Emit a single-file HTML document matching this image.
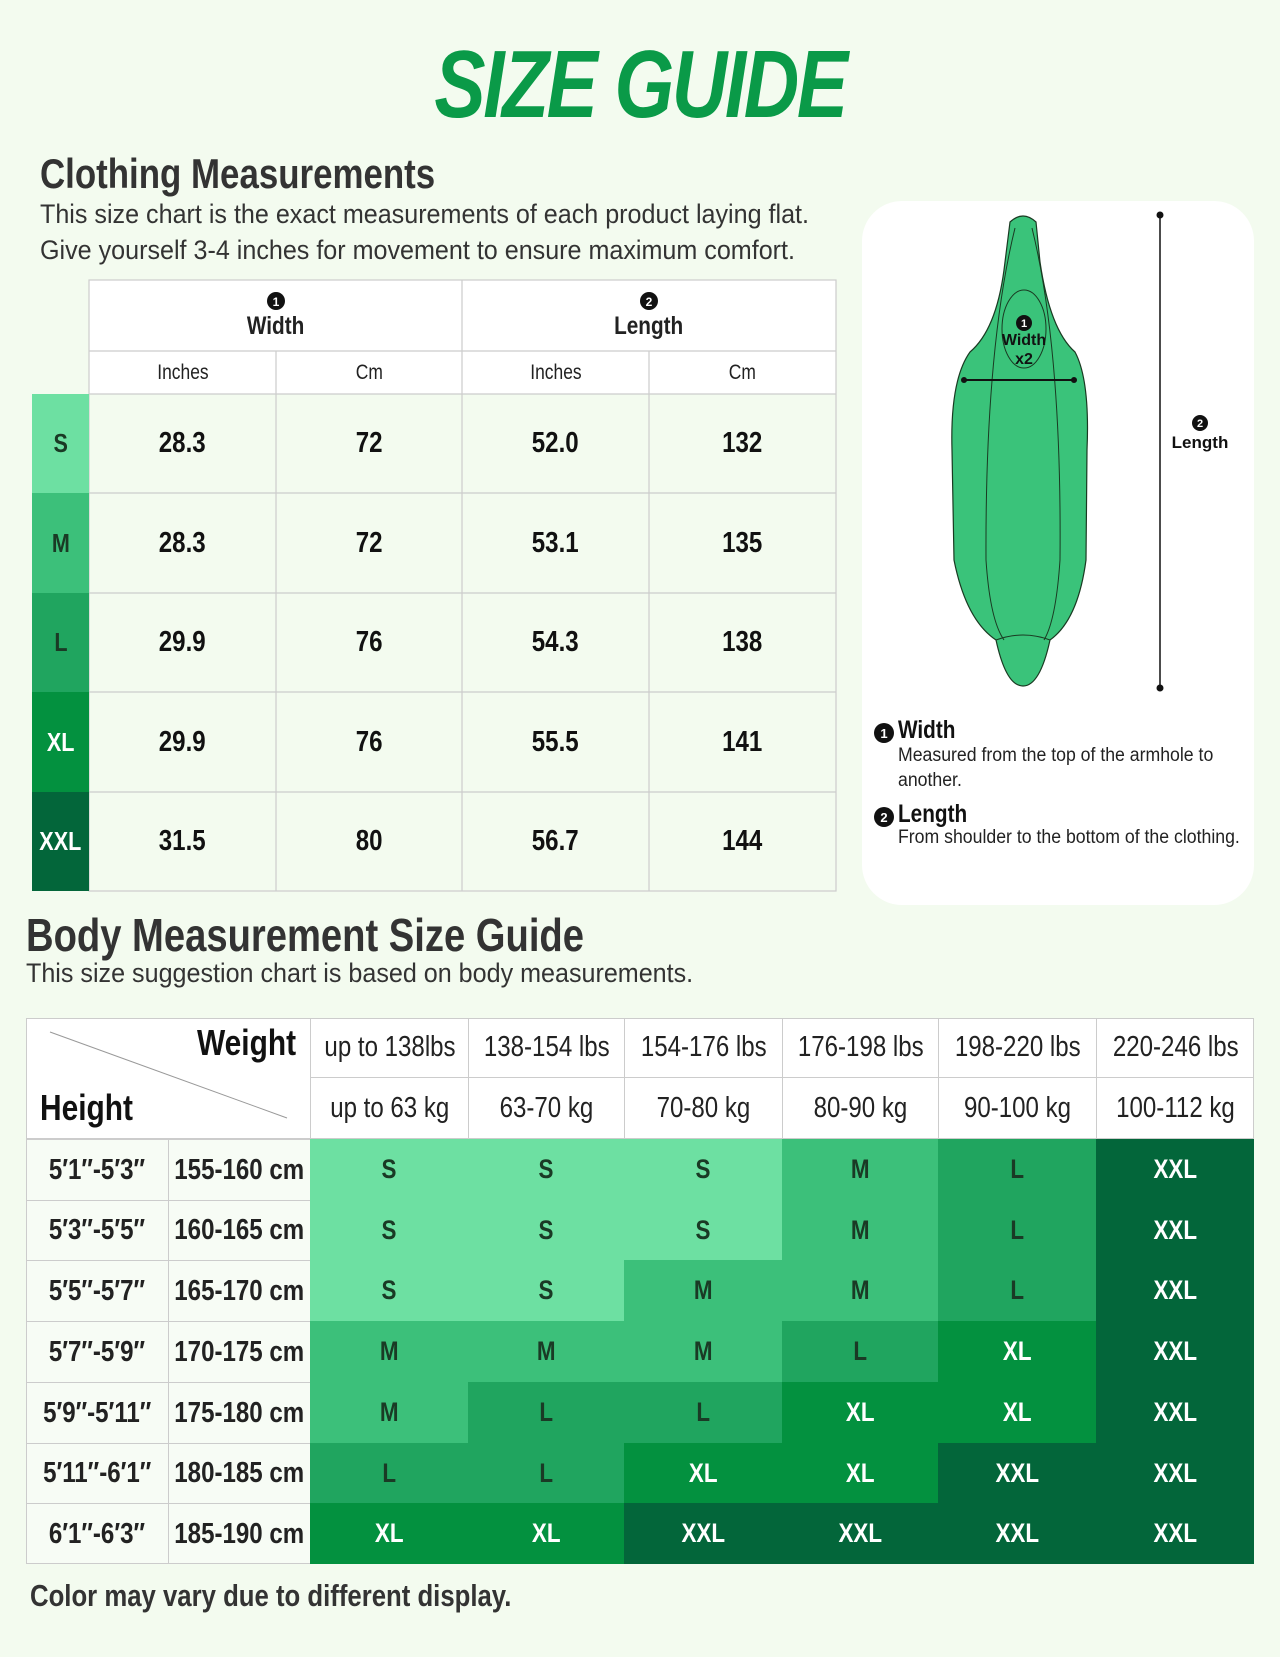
<!DOCTYPE html>
<html><head><meta charset="utf-8"><style>
*{margin:0;padding:0;box-sizing:border-box}
body{width:1280px;height:1657px;background:#f3fbef;position:relative;overflow:hidden;font-family:"Liberation Sans",sans-serif;color:#222}
.a{position:absolute;white-space:nowrap;transform-origin:0 0}
.l{transform:scaleX(.83)}
.m{transform:scaleX(.93)}
.c{position:absolute;display:flex;align-items:center;justify-content:center;text-align:center;white-space:nowrap}
.c span{display:inline-block;transform:scaleX(.83)}
.h{font-weight:bold;color:#333}
</style></head><body>
<div class="a" style="left:0;width:1280px;top:30px;text-align:center;font:italic bold 96px 'Liberation Sans',sans-serif;color:#0a9a48;letter-spacing:-3px"><span style="display:inline-block;transform:scaleX(.8)">SIZE GUIDE</span></div>
<div class="a h l" style="left:40px;top:150px;font-size:42px">Clothing Measurements</div>
<div class="a m" style="left:40px;top:196px;font-size:27px;color:#333;line-height:36px">This size chart is the exact measurements of each product laying flat.<br>Give yourself 3-4 inches for movement to ensure maximum comfort.</div>

<div class="a" style="left:89px;top:280px;width:747px;height:114px;background:#fff"></div>
<svg class="a" style="left:0;top:0" width="1280" height="1657">
<g stroke="#ccc" stroke-width="1.2" fill="none">
<rect x="89" y="280" width="747" height="611"/>
<line x1="89" y1="351" x2="836" y2="351"/>
<line x1="89" y1="394" x2="836" y2="394"/>
<line x1="89" y1="493" x2="836" y2="493"/><line x1="89" y1="593" x2="836" y2="593"/><line x1="89" y1="692" x2="836" y2="692"/><line x1="89" y1="792" x2="836" y2="792"/>
<line x1="462" y1="280" x2="462" y2="891"/>
<line x1="276" y1="351" x2="276" y2="891"/><line x1="649" y1="351" x2="649" y2="891"/>
</g>
<rect x="32" y="394" width="57" height="99" fill="#6de0a2"/>
<rect x="32" y="493" width="57" height="100" fill="#3cc07a"/>
<rect x="32" y="593" width="57" height="99" fill="#20a55f"/>
<rect x="32" y="692" width="57" height="100" fill="#03913f"/>
<rect x="32" y="792" width="57" height="99" fill="#03663a"/>
<rect x="862" y="201" width="392" height="704" rx="40" fill="#fff"/>
<path d="M1010,222 Q1023,210 1036,222 L1040,262 Q1050,330 1075,352 Q1090,380 1087,450 L1086,560 Q1078,620 1050,640 Q1040,686 1023,686 Q1006,686 996,640 Q966,620 954,560 L952,450 Q950,380 970,352 Q996,330 1004,270 Z" fill="#3ac37a" stroke="#1a3a22" stroke-width="1.2"/>
<g stroke="#1a3a22" fill="none" stroke-width="1">
<path d="M1015,228 Q985,350 986,560 Q990,620 1004,640"/><path d="M1032,228 Q1062,350 1060,560 Q1056,620 1044,640"/>
<path d="M996,640 Q1023,630 1050,640"/>
<ellipse cx="1024" cy="329" rx="22" ry="39"/>
</g>
<line x1="964" y1="380" x2="1074" y2="380" stroke="#111" stroke-width="2"/>
<circle cx="964" cy="380" r="3" fill="#111"/><circle cx="1074" cy="380" r="3" fill="#111"/>
<line x1="1160" y1="215" x2="1160" y2="688" stroke="#111" stroke-width="1.5"/>
<circle cx="1160" cy="215" r="3.5" fill="#111"/><circle cx="1160" cy="688" r="3.5" fill="#111"/>
<circle cx="1024" cy="323" r="8" fill="#111"/><text x="1024" y="327" font-size="11" fill="#fff" text-anchor="middle" font-weight="bold" font-family="Liberation Sans">1</text>
<text x="1024" y="345" font-size="16" text-anchor="middle" font-weight="bold" font-family="Liberation Sans" fill="#111">Width</text>
<text x="1024" y="364" font-size="16" text-anchor="middle" font-weight="bold" font-family="Liberation Sans" fill="#111">x2</text>
<circle cx="1200" cy="423" r="8" fill="#111"/><text x="1200" y="427" font-size="11" fill="#fff" text-anchor="middle" font-weight="bold" font-family="Liberation Sans">2</text>
<text x="1200" y="448" font-size="17" text-anchor="middle" font-weight="bold" font-family="Liberation Sans" fill="#111">Length</text>
<circle cx="276" cy="301" r="9" fill="#111"/><text x="276" y="306" font-size="12" fill="#fff" text-anchor="middle" font-weight="bold">1</text>
<circle cx="649" cy="301" r="9" fill="#111"/><text x="649" y="306" font-size="12" fill="#fff" text-anchor="middle" font-weight="bold">2</text>
<circle cx="884" cy="733" r="10" fill="#111"/><text x="884" y="738" font-size="13" fill="#fff" text-anchor="middle" font-weight="bold">1</text>
<circle cx="884" cy="817" r="10" fill="#111"/><text x="884" y="822" font-size="13" fill="#fff" text-anchor="middle" font-weight="bold">2</text>
</svg>
<div class="c" style="left:89px;top:312px;width:373px;font-size:25px;font-weight:bold"><span>Width</span></div>
<div class="c" style="left:462px;top:312px;width:374px;font-size:25px;font-weight:bold"><span>Length</span></div>
<div class="c" style="left:89px;top:351px;width:187px;height:43px;font-size:21px"><span>Inches</span></div>
<div class="c" style="left:276px;top:351px;width:186px;height:43px;font-size:21px"><span>Cm</span></div>
<div class="c" style="left:462px;top:351px;width:187px;height:43px;font-size:21px"><span>Inches</span></div>
<div class="c" style="left:649px;top:351px;width:187px;height:43px;font-size:21px"><span>Cm</span></div>
<div id="t1"></div>
<div class="a l" style="left:898px;top:716px;font-size:25px;font-weight:bold;color:#111">Width</div>
<div class="a m" style="left:898px;top:743px;font-size:19px;line-height:25px;color:#222">Measured from the top of the armhole to<br>another.</div>
<div class="a l" style="left:898px;top:800px;font-size:25px;font-weight:bold;color:#111">Length</div>
<div class="a m" style="left:898px;top:827px;font-size:19px;color:#222">From shoulder to the bottom of the clothing.</div>

<div class="a h l" style="left:26px;top:908px;font-size:46px">Body Measurement Size Guide</div>
<div class="a m" style="left:26px;top:958px;font-size:27px;color:#333">This size suggestion chart is based on body measurements.</div>
<div id="t2"></div>
<div class="a l" style="left:30px;top:1578px;font-size:31px;color:#333;font-weight:bold">Color may vary due to different display.</div>
<script>
var cols=[89,276,462,649,836],rows=[394,493,593,692,792,891];
var sz=["S","M","L","XL","XXL"],szc=["#1a3a25","#1a3a25","#1a3a25","#fff","#fff"];
var d=[["28.3","72","52.0","132"],["28.3","72","53.1","135"],["29.9","76","54.3","138"],["29.9","76","55.5","141"],["31.5","80","56.7","144"]];
var h="";
for(var r=0;r<5;r++){var y=rows[r],hh=rows[r+1]-y;
h+='<div class="c" style="left:32px;top:'+y+'px;width:57px;height:'+hh+'px;font-size:26px;font-weight:bold;color:'+szc[r]+'"><span>'+sz[r]+'</span></div>';
for(var c=0;c<4;c++)h+='<div class="c" style="left:'+cols[c]+'px;top:'+y+'px;width:'+(cols[c+1]-cols[c])+'px;height:'+hh+'px;font-size:29px;font-weight:bold;color:#111"><span>'+d[r][c]+'</span></div>';}
document.getElementById("t1").innerHTML=h;
var X=[26,169,310,468,624,782,938,1096,1254],Y=[1018,1078,1139,1200,1260,1321,1382,1443,1503,1564];
var col={S:"#6de0a2",M:"#3cc07a",L:"#20a55f",XL:"#03913f",XXL:"#03663a"};
var g=[["S","S","S","M","L","XXL"],["S","S","S","M","L","XXL"],["S","S","M","M","L","XXL"],["M","M","M","L","XL","XXL"],["M","L","L","XL","XL","XXL"],["L","L","XL","XL","XXL","XXL"],["XL","XL","XXL","XXL","XXL","XXL"]];
var hf=["5′1″-5′3″","5′3″-5′5″","5′5″-5′7″","5′7″-5′9″","5′9″-5′11″","5′11″-6′1″","6′1″-6′3″"];
var hc=["155-160 cm","160-165 cm","165-170 cm","170-175 cm","175-180 cm","180-185 cm","185-190 cm"];
var lb=["up to 138lbs","138-154 lbs","154-176 lbs","176-198 lbs","198-220 lbs","220-246 lbs"],kg=["up to 63 kg","63-70 kg","70-80 kg","80-90 kg","90-100 kg","100-112 kg"];
h='<div class="a" style="left:26px;top:1018px;width:1228px;height:546px;background:#f7fcf5;border:1.5px solid #ccc"></div>';
h+='<div class="a" style="left:26px;top:1018px;width:1228px;height:121px;background:#fff;border:1.5px solid #ccc"></div>';
for(var c=0;c<6;c++){var x=X[c+2],w=X[c+3]-x;
h+='<div class="c" style="left:'+x+'px;top:1018px;width:'+w+'px;height:60px;font-size:29px;border-left:1px solid #ccc;border-bottom:1px solid #ccc"><span>'+lb[c]+'</span></div>';
h+='<div class="c" style="left:'+x+'px;top:1078px;width:'+w+'px;height:61px;font-size:29px;border-left:1px solid #ccc"><span>'+kg[c]+'</span></div>';}
h+='<div class="a l" style="left:197px;top:1022px;font-size:36px;font-weight:bold;color:#111">Weight</div>';
h+='<div class="a l" style="left:40px;top:1087px;font-size:36px;font-weight:bold;color:#111">Height</div>';
h+='<svg class="a" style="left:0;top:0" width="1280" height="1657"><line x1="50" y1="1032" x2="287" y2="1118" stroke="#999" stroke-width="1"/></svg>';
for(var r=0;r<7;r++){var y=Y[r+2],hh=Y[r+3]-y;
h+='<div class="c" style="left:26px;top:'+y+'px;width:143px;height:'+hh+'px;font-size:29px;font-weight:bold;border-top:1px solid #ccc;border-right:1px solid #ccc"><span>'+hf[r]+'</span></div>';
h+='<div class="c" style="left:169px;top:'+y+'px;width:141px;height:'+hh+'px;font-size:29px;font-weight:bold;border-top:1px solid #ccc"><span>'+hc[r]+'</span></div>';
for(var c=0;c<6;c++){var s=g[r][c],x=X[c+2];
h+='<div class="c" style="left:'+x+'px;top:'+y+'px;width:'+(X[c+3]-x)+'px;height:'+hh+'px;background:'+col[s]+';font-size:27px;font-weight:bold;color:'+((s=="XL"||s=="XXL")?"#fff":"#1a3a25")+'"><span>'+s+'</span></div>';}}
document.getElementById("t2").innerHTML=h;
</script>
</body></html>
